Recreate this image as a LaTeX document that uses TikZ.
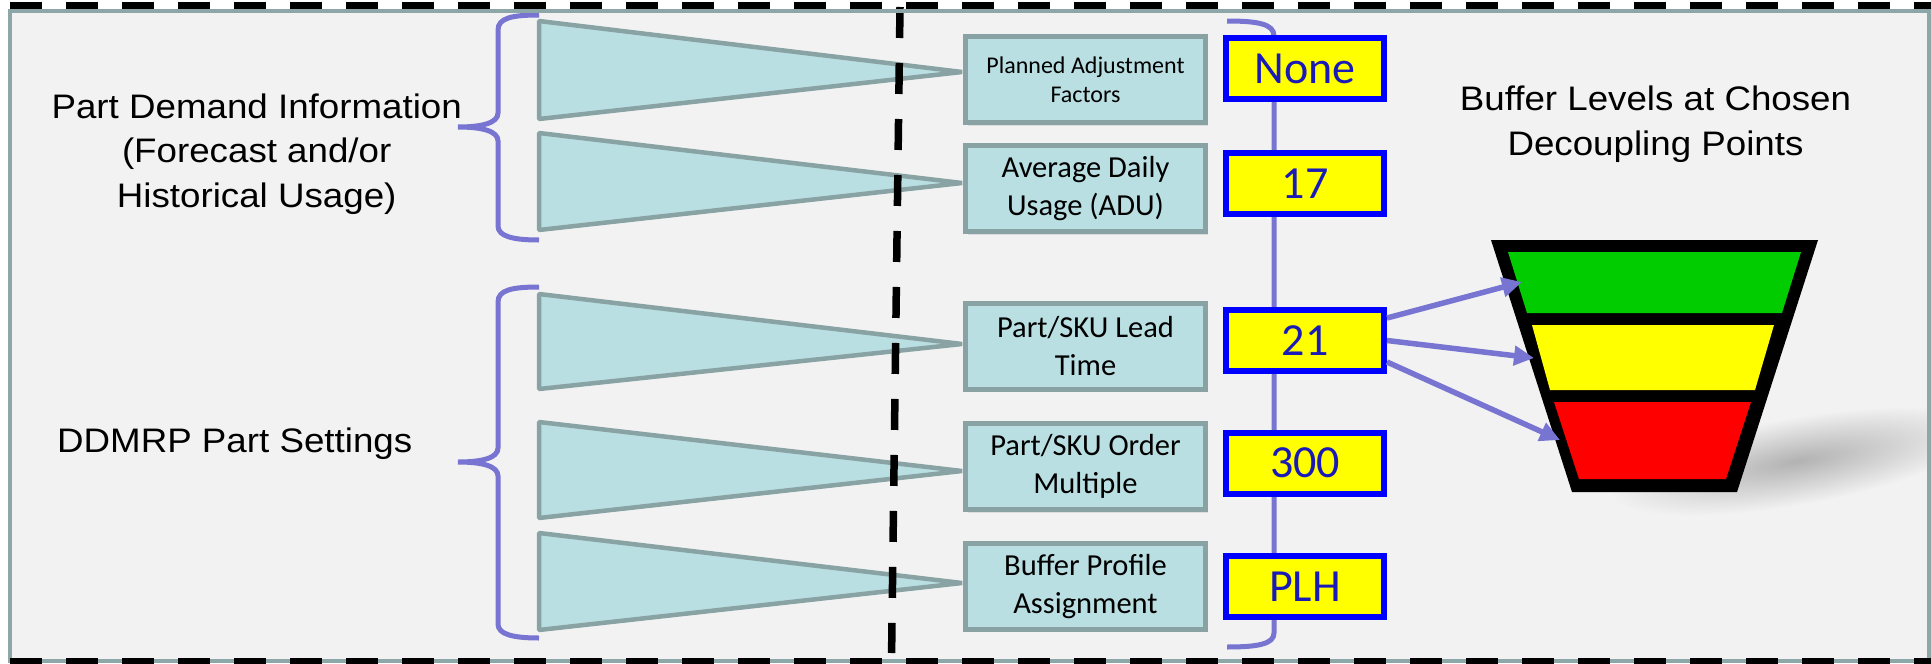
\documentclass[tikz,border=0pt]{standalone}
\usepackage{fontspec}
\usepackage{graphicx}
\usetikzlibrary{arrows.meta,shadows,calc}
\newfontfamily\arialf{Liberation Sans}
\newfontfamily\calibf{Carlito}
\definecolor{bgc}{HTML}{F2F2F2}
\definecolor{framec}{HTML}{8DA6A7}
\definecolor{tealc}{HTML}{B9DFE2}
\definecolor{tealline}{HTML}{89A3A4}
\definecolor{purp}{HTML}{7874D2}
\definecolor{numc}{HTML}{1A1AB8}
\definecolor{fgreen}{HTML}{00CC00}
\definecolor{fyellow}{HTML}{FFFF00}
\definecolor{fred}{HTML}{FF0000}
\definecolor{shadc}{RGB}{178,178,178}
\newcommand\wideT[1]{\scalebox{1.08}[1]{#1}}
\begin{document}
\begin{tikzpicture}[x=1pt,y=-1pt,
  lbltext/.style={inner sep=0pt, font=\arialf\fontsize{34pt}{44.5pt}\selectfont},
  tealbox/.style={draw=tealline, line width=5pt, fill=tealc, minimum width=240pt, minimum height=86pt,
    inner sep=0pt, align=center, font=\calibf\fontsize{30.5pt}{38.3pt}\selectfont,
    drop shadow={shadow xshift=2pt, shadow yshift=-3pt, opacity=0.18}},
  smalltext/.style={font=\calibf\fontsize{24pt}{29pt}\selectfont},
  valbox/.style={draw=blue, line width=6pt, fill=fyellow, minimum width=158pt, minimum height=61pt,
    inner sep=0pt, text=numc, font=\calibf\fontsize{46pt}{50pt}\selectfont},
  wedge/.style={draw=tealline, line width=4.5pt, fill=tealc, line join=bevel},
  brace/.style={draw=purp, line width=5pt},
  ptr/.style={draw=purp, line width=5.5pt, -{Triangle[length=20pt,width=19pt]}},
  blackdash/.style={draw=black, line width=7.5pt}
]
\useasboundingbox (0,0) rectangle (1931,664);
% background
\fill[white] (0,0) rectangle (1931,664);
\fill[bgc] (10,10.8) rectangle (1929,661);

% shadow of the funnel
\begin{scope}
  \clip (12,13) rectangle (1927,659);
  \begin{scope}[transform canvas={shift={(1797,461)},rotate=10}]
    \shade[inner color=shadc, outer color=bgc] (0,0) ellipse [x radius=190pt, y radius=44pt];
  \end{scope}
\end{scope}

% funnel
\fill[black] (1491,240) -- (1818,240) -- (1737,492) -- (1572,492) -- cycle;
\fill[fgreen] (1508,252) -- (1801,252) -- (1782,313) -- (1527,313) -- cycle;
\fill[fyellow] (1532,325) -- (1774,325) -- (1755,390) -- (1550,390) -- cycle;
\fill[fred] (1554,402) -- (1751,402) -- (1726,479) -- (1579,479) -- cycle;

% wedges
\draw[wedge] (539,21) -- (962,72) -- (539,119) -- cycle;
\draw[wedge] (539,133) -- (962,183) -- (539,230) -- cycle;
\draw[wedge] (539,294) -- (962,344) -- (539,389) -- cycle;
\draw[wedge] (539,422) -- (962,471) -- (539,518) -- cycle;
\draw[wedge] (539,533) -- (962,583) -- (539,630) -- cycle;

% left braces
\draw[brace] (539,15) .. controls (512,15) and (498,18) .. (498,30) -- (498,113)
  .. controls (498,123) and (482,127) .. (458,127) .. controls (482,127) and (498,131) .. (498,141)
  -- (498,226) .. controls (498,236) and (512,240) .. (539,240);
\draw[brace] (539,287) .. controls (512,287) and (498,290) .. (498,302) -- (498,448)
  .. controls (498,458) and (482,462) .. (458,462) .. controls (482,462) and (498,466) .. (498,476)
  -- (498,624) .. controls (498,634) and (512,638) .. (539,638);

% right bracket / spine
\draw[brace] (1227,21) .. controls (1258,21) and (1274,24) .. (1274,36) -- (1274,633)
  .. controls (1274,644) and (1258,647) .. (1227,647);

% setting boxes
\node[tealbox, smalltext] (pa) at (1085.5,79.5) {Planned Adjustment\\Factors};
\node[tealbox] (adu) at (1085.5,188.5) {Average Daily\\Usage (ADU)};
\node[tealbox] (lt) at (1085.5,346.2) {Part/SKU Lead\\Time};
\node[tealbox] (om) at (1085.5,466.7) {Part/SKU Order\\Multiple};
\node[tealbox] (bp) at (1085.5,586.2) {Buffer Profile\\Assignment};

% value boxes
\node[valbox] (vnone) at (1305,68.5) {None};
\node[valbox] (v17) at (1305,183.5) {17};
\node[valbox] (v21) at (1305,340.5) {21};
\node[valbox] (v300) at (1305,463) {300};
\node[valbox] (vplh) at (1305,586.5) {PLH};

% arrows to the buffer zones
\coordinate (tipG) at (1522,282);
\coordinate (tipY) at (1534,358);
\coordinate (tipR) at (1560,440);
\draw[ptr] ($(v21.east)+(0,-22.5)$) -- (tipG);
\draw[ptr] (v21.east) -- (tipY);
\draw[ptr] ($(v21.east)+(0,21.5)$) -- (tipR);

% labels
\node[lbltext, anchor=base] (pdi) at (256.7,207.3)
  {\wideT{\begin{tabular}[b]{@{}c@{}}Part Demand Information\\(Forecast and/or\\Historical Usage)\end{tabular}}};
\node[lbltext, anchor=base west] (dps) at (57,452) {\wideT{DDMRP Part Settings}};
\node[lbltext, anchor=base] (blv) at (1655.5,155)
  {\wideT{\begin{tabular}[b]{@{}c@{}}Buffer Levels at Chosen\\Decoupling Points\end{tabular}}};

% vertical dashed divider
\draw[blackdash, dash pattern=on 31pt off 25pt] (900,7) -- (891.6,653);

% frame
\draw[framec, line width=3.5pt] (10,10.8) rectangle (1929,661);
\draw[blackdash, dash pattern=on 32pt off 24pt] (10,5.5) -- (1931,5.5);
\draw[blackdash, dash pattern=on 32pt off 24pt] (10,662) -- (1931,662);
\end{tikzpicture}
\end{document}
